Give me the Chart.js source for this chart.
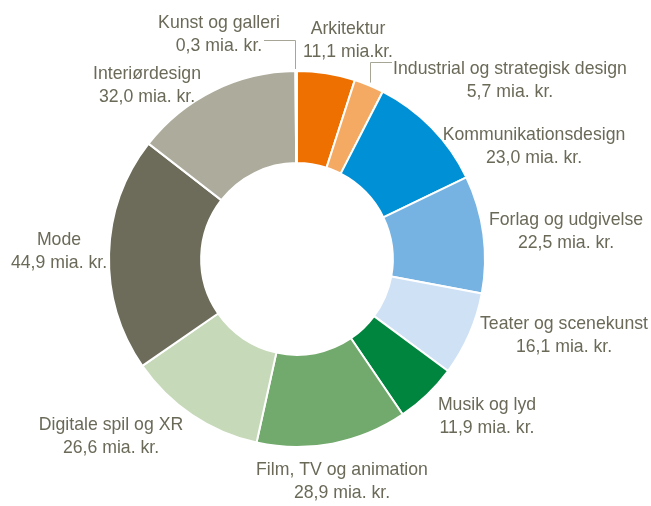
<!DOCTYPE html>
<html>
<head>
<meta charset="utf-8">
<script src="https://cdn.jsdelivr.net/npm/chart.js@4.4.1/dist/chart.umd.min.js"></script>
<style>
  html, body { margin: 0; padding: 0; background: #fff; }
  #wrap { width: 651px; height: 506px; }
</style>
</head>
<body>
<div id="wrap"><canvas id="donut" width="651" height="506"></canvas></div>
<script>
var categories = ['Arkitektur', 'Industrial og strategisk design', 'Kommunikationsdesign', 'Forlag og udgivelse',
    'Teater og scenekunst', 'Musik og lyd', 'Film, TV og animation', 'Digitale spil og XR', 'Mode',
    'Interiørdesign', 'Kunst og galleri']
var values = [11.1, 5.7, 23.0, 22.5, 16.1, 11.9, 28.9, 26.6, 44.9, 32.0, 0.3]
var valueLabels = ['11,1 mia.kr.', '5,7 mia. kr.', '23,0 mia. kr.', '22,5 mia. kr.', '16,1 mia. kr.', '11,9 mia. kr.',
    '28,9 mia. kr.', '26,6 mia. kr.', '44,9 mia. kr.', '32,0 mia. kr.', '0,3 mia. kr.']
var colors = ['#ED7000', '#F5AA63', '#0090D6', '#76B3E2', '#CFE1F5', '#00853E', '#72A96C', '#C6D9B9', '#6D6B59',
    '#ADAB9B', '#8C8A7A']

// label centres (x, y of first line), placed like the original
var labelPos = [[348, 29], [510, 69], [534, 135], [566, 220], [564, 324], [487, 405], [342, 470], [111, 425],
    [59, 240], [147, 74], [219, 23]]
var textColor = '#6b6a59'
var squeeze = 0.93 // original uses a narrow font

var labelPlugin = {
    id: 'sliceLabels',
    afterDatasetsDraw: function (chart) {
        var ctx = chart.ctx
        var arcs = chart.getDatasetMeta(0).data
        ctx.save()
        // leader lines
        ctx.strokeStyle = '#a6a596'
        ctx.lineWidth = 1
        var kunst = arcs[10]
        var kx = kunst.x + Math.cos(kunst.endAngle) * kunst.outerRadius
        ctx.beginPath()
        ctx.moveTo(264, 40.5)
        ctx.lineTo(Math.round(kx) - 1.5, 40.5)
        ctx.lineTo(Math.round(kx) - 1.5, kunst.y - kunst.outerRadius - 2)
        ctx.stroke()
        var ind = arcs[1]
        var mid = (ind.startAngle + ind.endAngle) / 2
        var ix = ind.x + Math.cos(mid) * (ind.outerRadius + 3)
        var iy = ind.y + Math.sin(mid) * (ind.outerRadius + 3)
        ctx.beginPath()
        ctx.moveTo(Math.round(ix) + 0.5, iy)
        ctx.lineTo(Math.round(ix) + 0.5, 62.5)
        ctx.lineTo(392, 62.5)
        ctx.stroke()

        ctx.fillStyle = textColor
        ctx.font = '19px "Liberation Sans", Arial, sans-serif'
        ctx.textAlign = 'center'
        ctx.textBaseline = 'middle'
        categories.forEach(function (c, i) {
            ctx.save()
            ctx.translate(labelPos[i][0], labelPos[i][1])
            ctx.scale(squeeze, 1)
            ctx.fillText(c, 0, 0)
            ctx.fillText(valueLabels[i], 0, 23)
            ctx.restore()
        })
        ctx.restore()
    }
}

new Chart(document.getElementById('donut'), {
    type: 'doughnut',
    data: {
        labels: categories,
        datasets: [{
            data: values,
            backgroundColor: colors,
            borderColor: '#ffffff',
            borderWidth: 2
        }]
    },
    options: {
        responsive: false,
        animation: false,
        cutout: '51%',
        layout: {
            padding: { left: 108, right: 165, top: 70, bottom: 58 }
        },
        plugins: {
            legend: { display: false },
            tooltip: { enabled: false }
        }
    },
    plugins: [labelPlugin]
})
</script>
</body>
</html>
